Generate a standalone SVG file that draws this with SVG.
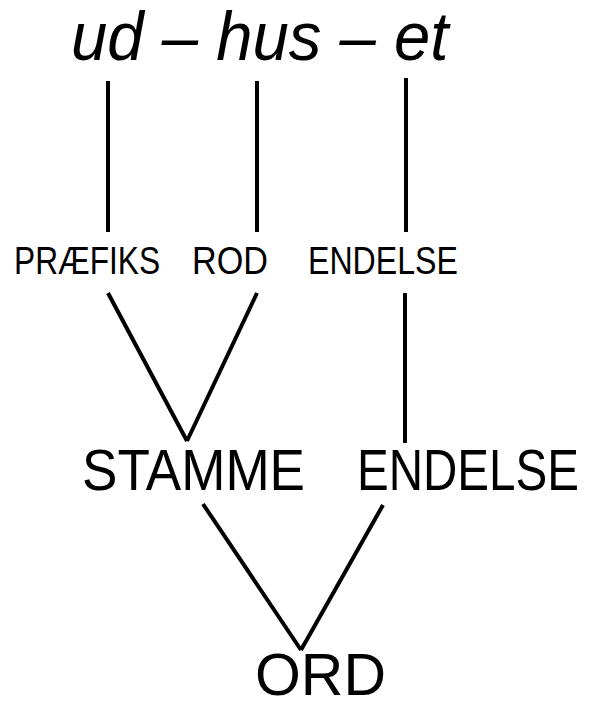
<svg xmlns="http://www.w3.org/2000/svg" width="590" height="708" viewBox="0 0 590 708">
<style>
text{font-family:"Liberation Sans",Arial,sans-serif;fill:#000}
.c line{stroke:#000;stroke-width:4;stroke-linecap:butt}
</style>
<rect width="590" height="708" fill="#fff"/>
<g id="word"><text transform="translate(71,60) scale(0.96,1)" font-size="68" font-style="italic">ud – hus – et</text></g>
<g id="praefiks"><text transform="translate(14,274) scale(0.834,1)" font-size="38">PRÆFIKS</text></g>
<g id="rod"><text transform="translate(192,274) scale(0.9,1)" font-size="38">ROD</text></g>
<g id="endelse1"><text transform="translate(308,274) scale(0.845,1)" font-size="38">ENDELSE</text></g>
<g id="stamme"><text transform="translate(82,490) scale(0.931,1)" font-size="57">STAMME</text></g>
<g id="endelse2"><text transform="translate(357,490) scale(0.834,1)" font-size="57">ENDELSE</text></g>
<g id="ord"><text transform="translate(255,695) scale(0.983,1)" font-size="60">ORD</text></g>
<g id="connectors" class="c">
<line x1="108" y1="81" x2="108" y2="232"/>
<line x1="257" y1="81" x2="257" y2="232"/>
<line x1="406" y1="78" x2="406" y2="232"/>
<line x1="108" y1="293" x2="187" y2="441"/>
<line x1="257" y1="293" x2="187" y2="441"/>
<line x1="405" y1="293" x2="405" y2="443"/>
<line x1="203" y1="504" x2="301" y2="650"/>
<line x1="383" y1="505" x2="301" y2="650"/>
</g>
</svg>
